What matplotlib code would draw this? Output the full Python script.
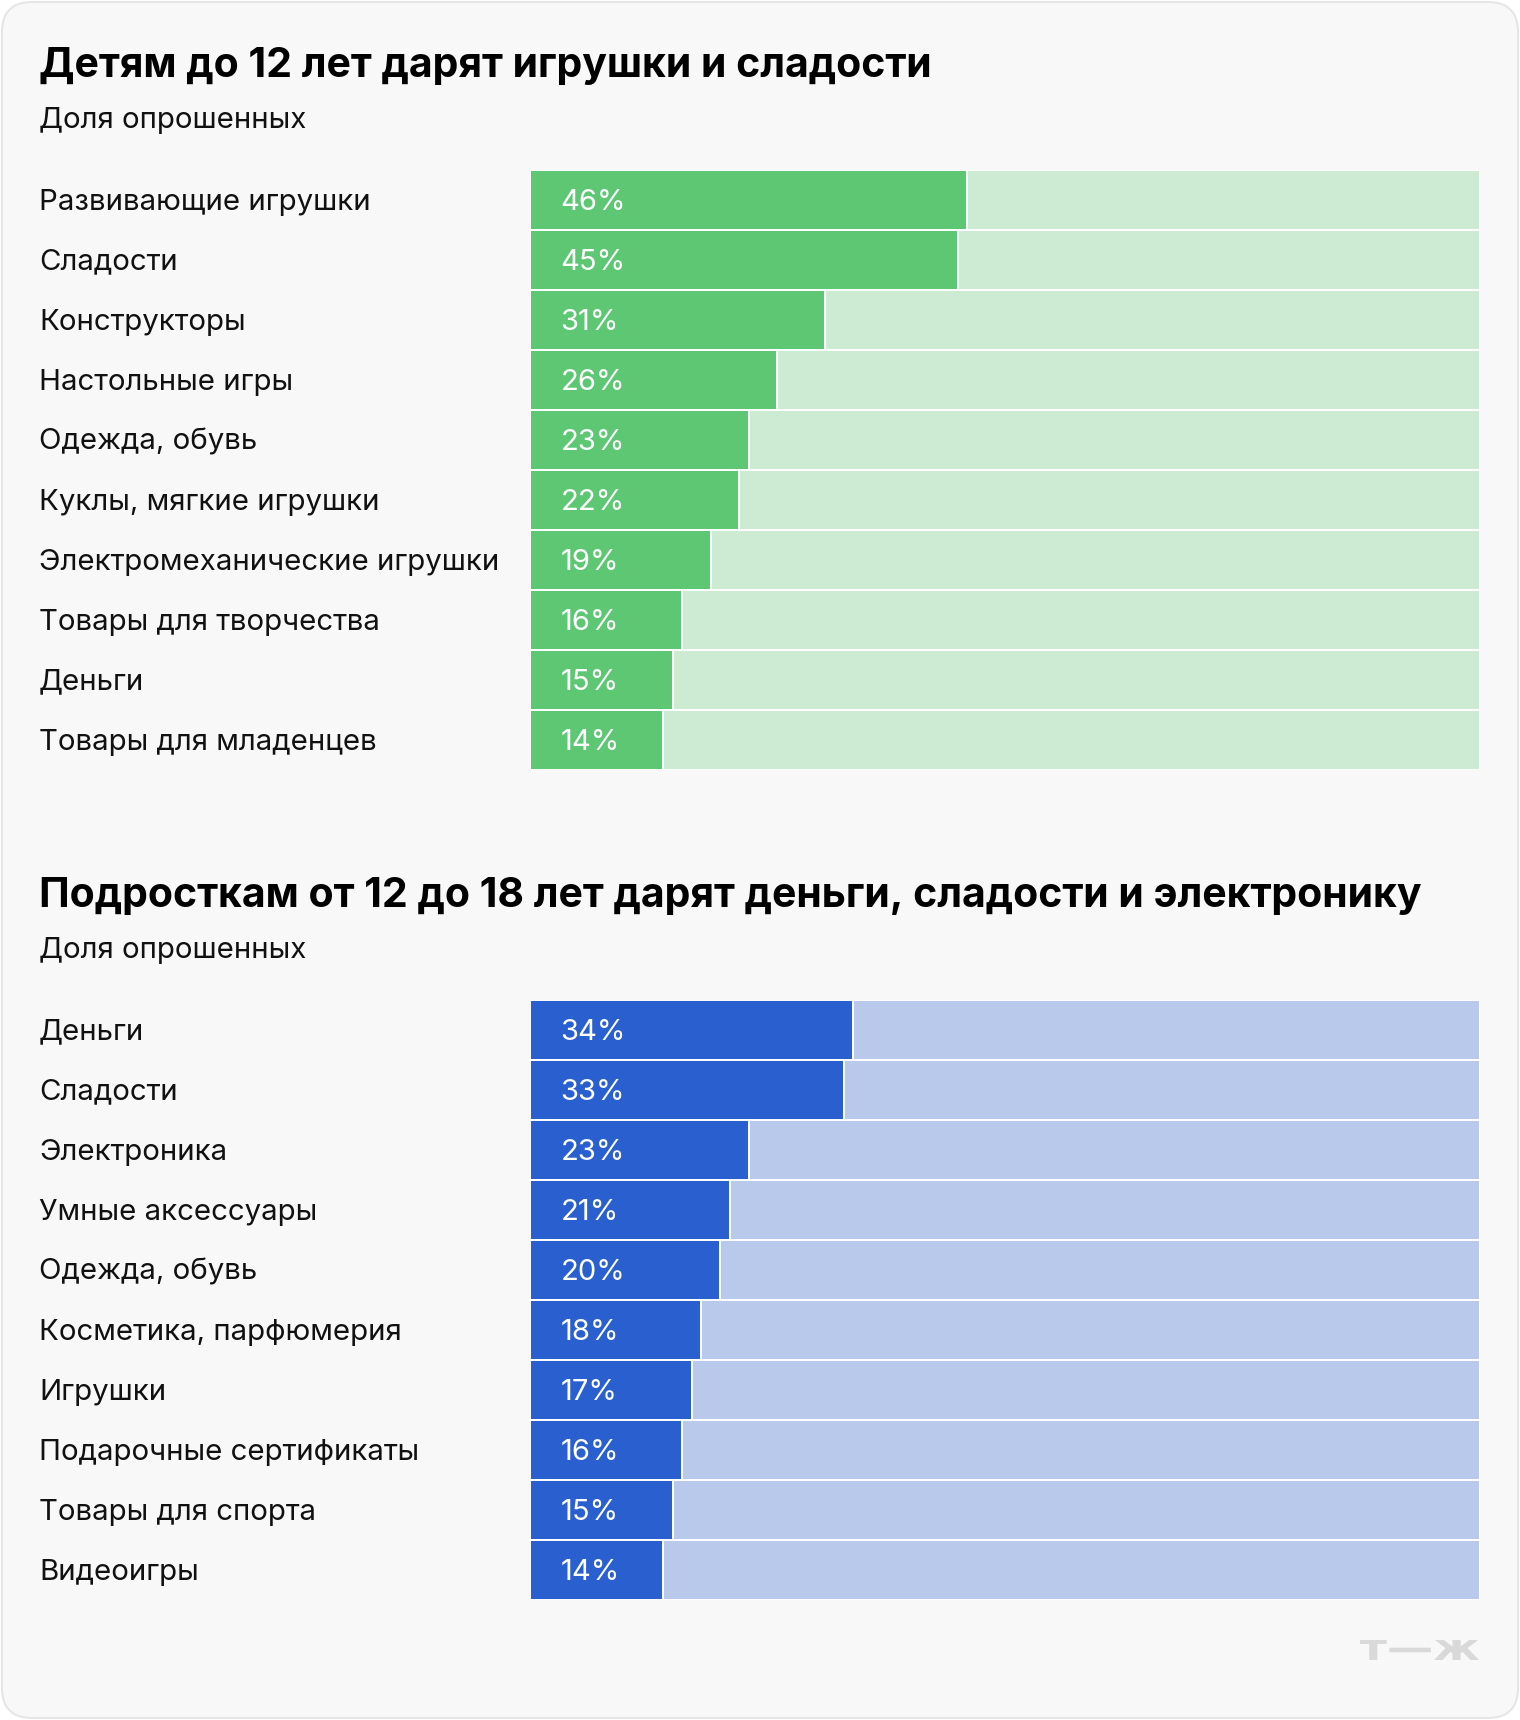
"""
Recreation of the T—Zh gift survey chart: two stacked 100% bar blocks
(kids under 12 vs teens 12–18).
"""

import matplotlib

matplotlib.use("Agg")
import matplotlib.pyplot as plt
import matplotlib.transforms as mtransforms
from matplotlib.font_manager import FontProperties
from matplotlib.patches import FancyBboxPatch, PathPatch
from matplotlib.textpath import TextPath

W, H = 1520, 1720
FONT = ["Inter", "DejaVu Sans"]

KIDS_TITLE = "Детям до 12 лет дарят игрушки и сладости"
TEEN_TITLE = "Подросткам от 12 до 18 лет дарят деньги, сладости и электронику"
SUBTITLE = "Доля опрошенных"
LOGO = "т—ж"

kids_labels = [
    "Развивающие игрушки",
    "Сладости",
    "Конструкторы",
    "Настольные игры",
    "Одежда, обувь",
    "Куклы, мягкие игрушки",
    "Электромеханические игрушки",
    "Товары для творчества",
    "Деньги",
    "Товары для младенцев",
]
kids_values = [46, 45, 31, 26, 23, 22, 19, 16, 15, 14]

teen_labels = [
    "Деньги",
    "Сладости",
    "Электроника",
    "Умные аксессуары",
    "Одежда, обувь",
    "Косметика, парфюмерия",
    "Игрушки",
    "Подарочные сертификаты",
    "Товары для спорта",
    "Видеоигры",
]
teen_values = [34, 33, 23, 21, 20, 18, 17, 16, 15, 14]

GREEN, GREEN_LIGHT = "#5ec774", "#cdead2"
BLUE, BLUE_LIGHT = "#295fcf", "#b9c9eb"

TEXT_X = 39
BAR_LEFT, BAR_RIGHT = 530, 1480
ROW_H = 60


def fx(x):
    return x / W


def fy(y):
    return 1 - y / H


def draw_block(fig, top, title, labels, values, dark, light):
    # heading + subtitle (pixel baselines measured from block top)
    fig.text(fx(TEXT_X), fy(top - 93), title, fontsize=29.5, fontweight="bold",
             family=FONT, va="baseline", color="#000000")
    fig.text(fx(TEXT_X), fy(top - 42), SUBTITLE, fontsize=21.2,
             family=FONT, va="baseline", color="#111111")

    n = len(values)
    bottom = top + n * ROW_H
    ax = fig.add_axes([fx(BAR_LEFT), fy(bottom), (BAR_RIGHT - BAR_LEFT) / W,
                       n * ROW_H / H])
    ys = list(range(n))
    ax.barh(ys, [100] * n, height=1.0, color=light, edgecolor="white",
            linewidth=1.4)
    ax.barh(ys, values, height=1.0, color=dark, edgecolor="white",
            linewidth=1.4)
    ax.set_xlim(0, 100)
    ax.set_ylim(n - 0.5, -0.5)
    ax.axis("off")

    trans = mtransforms.blended_transform_factory(fig.transFigure, ax.transData)
    for i, (lab, v) in enumerate(zip(labels, values)):
        ax.text(fx(TEXT_X), i + 0.16, lab, transform=trans, fontsize=21.2,
                family=FONT, va="baseline", ha="left", color="#111111")
        ax.text(3.2, i + 0.17, f"{v}%", fontsize=21, family=FONT,
                va="baseline", ha="left", color="white")


def draw_logo(fig, x0, x1, y_top, y_bot):
    # wide grey wordmark, stretched into its box (pixel coords, top-down)
    path = TextPath((0, 0), LOGO, size=40,
                    prop=FontProperties(family="DejaVu Sans", weight="bold"))
    ext = path.get_extents()
    sx = (x1 - x0) / ext.width
    sy = (y_bot - y_top) / ext.height
    tr = (mtransforms.Affine2D()
          .translate(-ext.x0, -ext.y0)
          .scale(sx, sy)
          .translate(x0, H - y_bot))
    fig.patches.append(PathPatch(path, transform=tr, facecolor="#d9d9d9",
                                 edgecolor="none", zorder=5))


def main():
    fig = plt.figure(figsize=(W / 100, H / 100), dpi=100, facecolor="white")

    card = FancyBboxPatch((2, 2), W - 4, H - 4,
                          boxstyle="round,pad=0,rounding_size=30",
                          transform=mtransforms.IdentityTransform(),
                          facecolor="#f8f8f8", edgecolor="#e6e6e6",
                          linewidth=1.5, zorder=-10)
    fig.patches.append(card)

    draw_block(fig, 170, KIDS_TITLE, kids_labels, kids_values,
               GREEN, GREEN_LIGHT)
    draw_block(fig, 1000, TEEN_TITLE, teen_labels, teen_values,
               BLUE, BLUE_LIGHT)

    draw_logo(fig, 1360, 1479, 1640, 1660)

    fig.savefig("out.png", dpi=100, facecolor="white")
    plt.close(fig)


if __name__ == "__main__":
    main()
